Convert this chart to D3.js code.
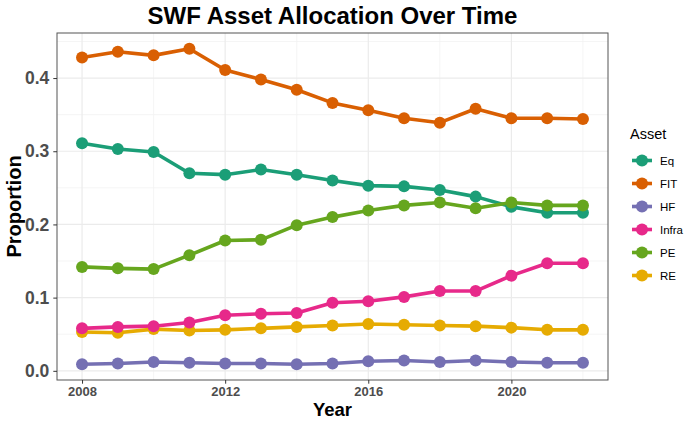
<!DOCTYPE html>
<html>
<head>
<meta charset="utf-8">
<style>
    body { margin: 0; background: white; }
    svg { display: block; font-family: 'Liberation Sans', Arial, sans-serif; }
</style>
</head>
<body>
<svg id="chart" width="685" height="423"></svg>
<script src="https://d3js.org/d3.v7.min.js"></script>
<script>
    // data
    const years = [2008, 2009, 2010, 2011, 2012, 2013, 2014, 2015, 2016, 2017, 2018, 2019, 2020, 2021, 2022]
    const assets = ["Eq", "FIT", "HF", "Infra", "PE", "RE"]
    const eq    = [0.311, 0.303, 0.299, 0.270, 0.268, 0.275, 0.268, 0.260, 0.253, 0.252, 0.247, 0.238, 0.224, 0.216, 0.216]
    const fit   = [0.428, 0.436, 0.431, 0.440, 0.411, 0.398, 0.384, 0.366, 0.356, 0.345, 0.339, 0.358, 0.345, 0.345, 0.344]
    const hf    = [0.009, 0.010, 0.012, 0.011, 0.010, 0.010, 0.009, 0.010, 0.013, 0.014, 0.012, 0.014, 0.012, 0.011, 0.011]
    const infra = [0.058, 0.060, 0.061, 0.066, 0.076, 0.078, 0.079, 0.093, 0.095, 0.101, 0.109, 0.109, 0.130, 0.147, 0.147]
    const pe    = [0.142, 0.140, 0.139, 0.158, 0.178, 0.179, 0.199, 0.210, 0.219, 0.226, 0.230, 0.222, 0.230, 0.226, 0.226]
    const re    = [0.053, 0.052, 0.057, 0.055, 0.056, 0.058, 0.060, 0.062, 0.064, 0.063, 0.062, 0.061, 0.059, 0.056, 0.056]
    const colors = ["#1B9E77", "#D95F02", "#7570B3", "#E7298A", "#66A61E", "#E6AB02"]
    const xTicks = [2008, 2012, 2016, 2020]
    const xMinor = [2010, 2014, 2018, 2022]
    const yTicks = [0, 0.1, 0.2, 0.3, 0.4]
    const yMinor = [0.05, 0.15, 0.25, 0.35, 0.45]

    const values = [eq, fit, hf, infra, pe, re]
    const series = assets.map((a, i) => ({
        name: a,
        color: colors[i],
        points: years.map((y, j) => ({ year: y, value: values[i][j] }))
    }))

    const pLeft = 57, pRight = 608, pTop = 33, pBottom = 380
    const svg = d3.select("#chart")

    // ggplot style 5% expansion
    const allVals = values.flat()
    const yLo = d3.min(allVals), yHi = d3.max(allVals)
    const yPad = (yHi - yLo) * 0.05
    const xPad = (d3.max(years) - d3.min(years)) * 0.05

    const x = d3.scaleLinear()
        .domain([d3.min(years) - xPad, d3.max(years) + xPad])
        .range([pLeft, pRight])
    const y = d3.scaleLinear()
        .domain([yLo - yPad, yHi + yPad])
        .range([pBottom, pTop])

    // grid
    const grid = svg.append("g")
    grid.selectAll(".ym").data(yMinor.filter(v => y(v) > pTop)).join("line")
        .attr("x1", pLeft).attr("x2", pRight)
        .attr("y1", d => y(d)).attr("y2", d => y(d))
        .attr("stroke", "#F2F2F2").attr("stroke-width", 0.8)
    grid.selectAll(".xm").data(xMinor).join("line")
        .attr("x1", d => x(d)).attr("x2", d => x(d))
        .attr("y1", pTop).attr("y2", pBottom)
        .attr("stroke", "#F2F2F2").attr("stroke-width", 0.8)
    grid.selectAll(".yM").data(yTicks).join("line")
        .attr("x1", pLeft).attr("x2", pRight)
        .attr("y1", d => y(d)).attr("y2", d => y(d))
        .attr("stroke", "#EBEBEB").attr("stroke-width", 1.2)
    grid.selectAll(".xM").data(xTicks).join("line")
        .attr("x1", d => x(d)).attr("x2", d => x(d))
        .attr("y1", pTop).attr("y2", pBottom)
        .attr("stroke", "#EBEBEB").attr("stroke-width", 1.2)

    // lines
    const line = d3.line().x(d => x(d.year)).y(d => y(d.value))
    svg.append("g").selectAll("path")
        .data(series)
        .join("path")
        .attr("d", d => line(d.points))
        .attr("fill", "none")
        .attr("stroke", d => d.color)
        .attr("stroke-width", 3.6)
        .attr("stroke-linejoin", "round")

    // points
    const order = ["Eq", "FIT", "HF", "RE", "Infra", "PE"]
    svg.append("g").selectAll("g")
        .data(order.map(n => series.find(s => s.name == n)))
        .join("g")
        .attr("fill", d => d.color)
        .selectAll("circle")
        .data(d => d.points)
        .join("circle")
        .attr("cx", d => x(d.year))
        .attr("cy", d => y(d.value))
        .attr("r", 6)

    // panel border
    svg.append("rect")
        .attr("x", pLeft).attr("y", pTop)
        .attr("width", pRight - pLeft).attr("height", pBottom - pTop)
        .attr("fill", "none").attr("stroke", "#555").attr("stroke-width", 1)

    // axes
    const xAxis = svg.append("g")
        .attr("transform", `translate(0,${pBottom})`)
        .call(d3.axisBottom(x).tickValues(xTicks).tickFormat(d3.format("d")).tickSize(3.7).tickPadding(3))
    xAxis.select(".domain").remove()
    xAxis.selectAll("line").attr("stroke", "#333")
    xAxis.selectAll("text").attr("fill", "#4D4D4D").attr("font-size", 13).attr("font-weight", "bold")
        .attr("font-family", "'Liberation Sans', Arial, sans-serif")

    const yAxis = svg.append("g")
        .attr("transform", `translate(${pLeft},0)`)
        .call(d3.axisLeft(y).tickValues(yTicks).tickFormat(d3.format(".1f")).tickSize(3.7).tickPadding(4))
    yAxis.select(".domain").remove()
    yAxis.selectAll("line").attr("stroke", "#333")
    yAxis.selectAll("text").attr("fill", "#4D4D4D").attr("font-size", 17.5).attr("font-weight", "bold")
        .attr("font-family", "'Liberation Sans', Arial, sans-serif")

    // titles
    svg.append("text")
        .attr("x", (pLeft + pRight) / 2).attr("y", 24)
        .attr("text-anchor", "middle")
        .attr("font-size", 24).attr("font-weight", "bold")
        .text("SWF Asset Allocation Over Time")
    svg.append("text")
        .attr("x", (pLeft + pRight) / 2).attr("y", 416)
        .attr("text-anchor", "middle")
        .attr("font-size", 18.5).attr("font-weight", "bold")
        .text("Year")
    svg.append("text")
        .attr("transform", `translate(21,${(pTop + pBottom) / 2}) rotate(-90)`)
        .attr("text-anchor", "middle")
        .attr("font-size", 20).attr("font-weight", "bold")
        .text("Proportion")

    // legend
    const legend = svg.append("g")
    legend.append("text")
        .attr("x", 630).attr("y", 139)
        .attr("font-size", 14.5)
        .text("Asset")
    const key = legend.selectAll(".key")
        .data(series)
        .join("g")
        .attr("transform", (d, i) => `translate(642,${160.5 + i * 23})`)
    key.append("line")
        .attr("x1", -10).attr("x2", 10)
        .attr("stroke", d => d.color).attr("stroke-width", 3.6)
    key.append("circle")
        .attr("r", 6)
        .attr("fill", d => d.color)
    key.append("text")
        .attr("x", 18).attr("dy", "0.35em")
        .attr("font-size", 11.5)
        .text(d => d.name)
</script>
</body>
</html>
